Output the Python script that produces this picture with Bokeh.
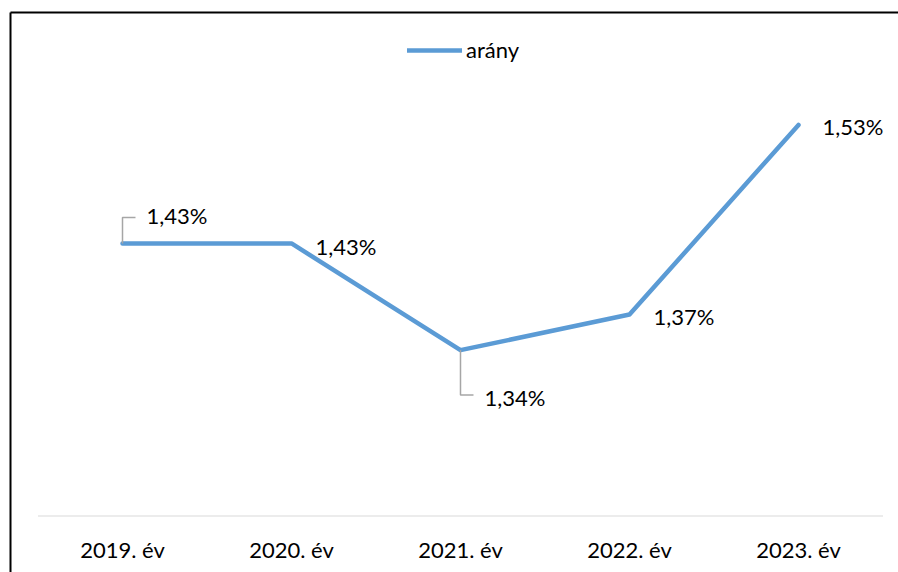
from bokeh.plotting import figure
from bokeh.models import (Range1d, LinearAxis, FixedTicker, ColumnDataSource,
                          Legend, LegendItem)
from bokeh.core.properties import value
from bokeh.embed import file_html
from bokeh.resources import INLINE

# ---- data ----
categories = ["2019. év", "2020. év", "2021. év", "2022. év", "2023. év"]
values = [1.43, 1.43, 1.34, 1.37, 1.53]
series_name = "arány"
axis_min = 1.2

# ---- layout / style (pixels) ----
W, H = 898, 572
MB_LEFT, MB_TOP = 10, 12
FW, FH = W - MB_LEFT, H - MB_TOP
label_dx = 24
label_dy = [-28, 3, 47, 2, 2]
FONT = "Lato"
FS = "22px"
LINE_COLOR = "#5b9bd5"

x = list(range(len(categories)))
labels = [f"{v:.2f}".replace(".", ",") + "%" for v in values]

x_start = -0.6627
x_end = x_start + FW / 169.0
y_end = 1.6249
y_start = y_end - FH / 1185.0
xpx = FW / (x_end - x_start)
ypx = FH / (y_end - y_start)

p = figure(width=W, height=H, output_backend="svg", toolbar_location=None,
           x_range=Range1d(x_start, x_end), y_range=Range1d(y_start, y_end),
           x_axis_location=None, y_axis_location=None,
           min_border_left=MB_LEFT, min_border_top=MB_TOP,
           min_border_right=0, min_border_bottom=0)
p.outline_line_color = None
p.grid.visible = False
p.background_fill_color = "white"
p.border_fill_color = "white"

# chart border (top and left)
for side in ("above", "left"):
    ax = LinearAxis(ticker=FixedTicker(ticks=[]), axis_line_color="black",
                    axis_line_width=2, major_tick_out=0, major_tick_in=0,
                    minor_tick_out=0, minor_tick_in=0,
                    major_label_text_font_size="0px")
    p.add_layout(ax, side)

# category axis
xaxis = LinearAxis(fixed_location=axis_min, ticker=FixedTicker(ticks=x),
                   major_label_overrides={i: c for i, c in enumerate(categories)},
                   axis_line_color=None, major_tick_out=0, major_tick_in=0,
                   minor_tick_out=0, minor_tick_in=0,
                   major_label_text_font=FONT, major_label_text_font_size=FS,
                   major_label_text_color="black", major_label_standoff=20)
p.add_layout(xaxis, "below")
p.segment(x0=[x[0] - 0.5], x1=[x[-1] + 0.5], y0=[axis_min], y1=[axis_min],
          line_color="#d9d9d9", line_width=1.2)

src = ColumnDataSource(dict(x=x, y=values, lab=labels, dy=label_dy))
r = p.line("x", "y", source=src, line_color=LINE_COLOR, line_width=4.5,
           line_join="round", line_cap="round")

# leader lines for labels moved away from their point
xs, ys = [], []
for xi, vi, dy in zip(x, values, label_dy):
    if abs(dy) > 10:
        ly = vi - (dy - 2 * (1 if dy > 0 else -1)) / ypx
        xs.append([xi, xi, xi + (label_dx - 11) / xpx])
        ys.append([vi, ly, ly])
p.multi_line(xs, ys, line_color="#a6a6a6", line_width=1.5)

p.text("x", "y", text="lab", source=src, x_offset=label_dx, y_offset="dy",
       text_font=value(FONT), text_font_size=FS, text_color="black",
       text_baseline="middle", text_align="left")

legend = Legend(items=[LegendItem(label=series_name, renderers=[r])],
                location=(397, 509), orientation="horizontal",
                padding=0, margin=0, border_line_color=None,
                background_fill_alpha=0, glyph_width=55, glyph_height=24,
                label_height=24, label_standoff=4, label_text_font=FONT,
                label_text_font_size=FS, label_text_color="black")
p.add_layout(legend)

open("out.html", "w").write(file_html(p, INLINE))
